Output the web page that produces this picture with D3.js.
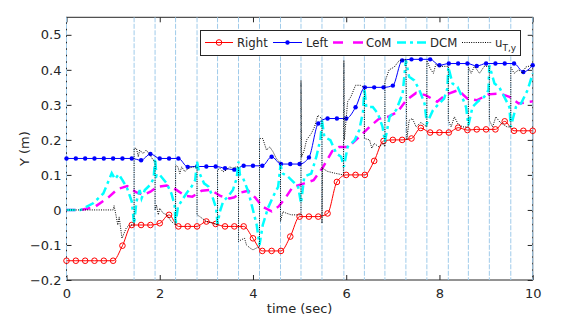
<!DOCTYPE html>
<html>
<head>
<meta charset="utf-8">
<script src="https://cdn.jsdelivr.net/npm/d3@7"></script>
<style>
  body { margin: 0; background: #fff; }
  text { font-family: "DejaVu Sans", sans-serif; fill: #262626; }
</style>
</head>
<body>
<script>
// step events (vertical guide lines)
const eventTimes = [0, 1.45, 1.9, 2.34, 2.8, 3.24, 3.69, 4.14, 4.59, 5.03, 5.48, 5.95,
  6.39, 6.83, 7.28, 7.73, 8.19, 8.62, 9.07, 9.53, 10];

// foot samples (one marker per sample)
const footTimes = [0, 0.2, 0.4, 0.6, 0.8, 1.0, 1.2, 1.4, 1.6, 1.8, 2.0, 2.2, 2.4, 2.6, 2.8,
  3.0, 3.2, 3.4, 3.6, 3.8, 4.0, 4.2, 4.4, 4.6, 4.8, 5.0, 5.2, 5.4, 5.6, 5.8, 6.0, 6.2, 6.4,
  6.6, 6.8, 7.0, 7.2, 7.4, 7.6, 7.8, 8.0, 8.2, 8.4, 8.6, 8.8, 9.0, 9.2, 9.4, 9.6, 9.8, 10.0];
const rightY = [-0.145, -0.145, -0.145, -0.145, -0.145, -0.145, -0.102, -0.043, -0.043, -0.043,
  -0.038, -0.014, -0.047, -0.047, -0.047, -0.033, -0.040, -0.047, -0.047, -0.047, -0.081,
  -0.117, -0.117, -0.117, -0.076, -0.019, -0.019, -0.019, -0.010, 0.080, 0.100, 0.100, 0.100,
  0.140, 0.197, 0.200, 0.200, 0.204, 0.234, 0.221, 0.221, 0.221, 0.235, 0.228, 0.230, 0.230,
  0.230, 0.253, 0.226, 0.226, 0.226];
const leftY = [0.147, 0.147, 0.147, 0.147, 0.147, 0.147, 0.147, 0.147, 0.142, 0.160, 0.147,
  0.147, 0.147, 0.123, 0.124, 0.124, 0.124, 0.119, 0.115, 0.126, 0.126, 0.126, 0.152, 0.131,
  0.131, 0.131, 0.150, 0.247, 0.261, 0.261, 0.261, 0.293, 0.350, 0.350, 0.350, 0.355, 0.427,
  0.430, 0.430, 0.430, 0.413, 0.418, 0.418, 0.418, 0.411, 0.418, 0.418, 0.418, 0.418, 0.394,
  0.413];

// centre of mass
const comData = [[0, 0], [0.3, 0], [0.6, 0.008], [0.9, 0.036], [1.1, 0.060], [1.3, 0.068],
  [1.5, 0.050], [1.65, 0.043], [1.8, 0.052], [1.95, 0.066], [2.15, 0.070], [2.35, 0.058],
  [2.55, 0.040], [2.7, 0.038], [2.9, 0.055], [3.1, 0.057], [3.3, 0.040], [3.5, 0.033],
  [3.6, 0.036], [3.75, 0.050], [3.9, 0.055], [4.05, 0.035], [4.2, 0.010], [4.4, -0.004],
  [4.55, 0.010], [4.7, 0.035], [4.85, 0.065], [5.1, 0.076], [5.3, 0.085], [5.5, 0.122],
  [5.7, 0.168], [5.85, 0.180], [6.05, 0.180], [6.25, 0.205], [6.5, 0.237], [6.7, 0.260],
  [6.9, 0.266], [7.1, 0.280], [7.3, 0.315], [7.5, 0.334], [7.7, 0.328], [7.95, 0.309],
  [8.15, 0.330], [8.4, 0.342], [8.6, 0.318], [8.8, 0.313], [9.05, 0.330], [9.3, 0.332],
  [9.5, 0.323], [9.7, 0.304], [10, 0.310]];

// divergent component of motion
const dcmData = [[0, 0], [0.3, 0], [0.57, 0.019], [0.79, 0.047], [0.97, 0.105], [1.04, 0.088],
  [1.12, 0.102], [1.2, 0.085], [1.3, 0.062], [1.4, 0.024], [1.45, -0.040], [1.5, 0.024],
  [1.57, 0.057], [1.61, 0.033], [1.68, 0.057], [1.79, 0.071], [1.87, 0.090], [1.9, 0.147],
  [1.93, 0.095], [2.0, 0.100], [2.15, 0.076], [2.25, 0.047], [2.32, 0.014], [2.34, -0.040],
  [2.39, 0.009], [2.46, 0.024], [2.57, 0.047], [2.68, 0.066], [2.76, 0.085], [2.8, 0.138],
  [2.84, 0.109], [2.95, 0.076], [3.05, 0.066], [3.13, 0.038], [3.21, 0.005], [3.24, -0.040],
  [3.29, -0.005], [3.36, 0.024], [3.46, 0.038], [3.57, 0.057], [3.65, 0.090], [3.69, 0.138],
  [3.72, 0.100], [3.79, 0.090], [3.9, 0.052], [4.0, 0], [4.08, -0.043], [4.14, -0.100],
  [4.21, -0.043], [4.32, 0.005], [4.43, 0.038], [4.54, 0.066], [4.59, 0.128], [4.64, 0.104],
  [4.75, 0.095], [4.86, 0.081], [4.97, 0.066], [5.03, 0.019], [5.1, 0.095], [5.25, 0.104],
  [5.36, 0.152], [5.45, 0.204], [5.48, 0.256], [5.53, 0.209], [5.66, 0.199], [5.79, 0.161],
  [5.89, 0.152], [5.95, 0.123], [6.03, 0.180], [6.18, 0.199], [6.28, 0.228], [6.36, 0.280],
  [6.39, 0.347], [6.43, 0.294], [6.57, 0.294], [6.68, 0.275], [6.78, 0.237], [6.83, 0.195],
  [6.93, 0.266], [7.07, 0.285], [7.21, 0.332], [7.28, 0.427], [7.35, 0.380], [7.46, 0.370],
  [7.57, 0.342], [7.68, 0.304], [7.73, 0.247], [7.86, 0.285], [7.96, 0.299], [8.1, 0.318],
  [8.17, 0.347], [8.19, 0.408], [8.28, 0.361], [8.39, 0.351], [8.5, 0.318], [8.57, 0.294],
  [8.62, 0.242], [8.71, 0.294], [8.82, 0.309], [8.96, 0.323], [9.05, 0.342], [9.07, 0.413],
  [9.18, 0.361], [9.28, 0.351], [9.39, 0.323], [9.5, 0.294], [9.53, 0.237], [9.64, 0.294],
  [9.75, 0.304], [9.89, 0.342], [10, 0.390]];

// u_T,y
const uData = [[0, 0], [1.0, 0], [1.02, 0.012], [1.06, -0.014], [1.1, -0.043], [1.13, -0.020],
  [1.19, -0.081], [1.28, -0.052], [1.35, -0.043], [1.45, -0.043], [1.45, 0.176], [1.5, 0.176],
  [1.54, 0.152], [1.57, 0.171], [1.64, 0.161], [1.71, 0.171], [1.79, 0.157], [1.86, 0.142],
  [1.9, 0.140], [1.9, 0.0], [1.93, 0.014], [1.97, -0.014], [2.0, 0.005], [2.07, -0.009],
  [2.15, -0.014], [2.25, -0.033], [2.34, -0.043], [2.34, 0.128], [2.39, 0.123], [2.43, 0.104],
  [2.47, 0.123], [2.54, 0.109], [2.61, 0.119], [2.72, 0.123], [2.8, 0.123], [2.8, -0.014],
  [2.86, -0.019], [3.0, -0.033], [3.14, -0.038], [3.24, -0.043], [3.24, 0.114], [3.29, 0.119],
  [3.36, 0.109], [3.43, 0.114], [3.5, 0.123], [3.57, 0.119], [3.64, 0.123], [3.69, 0.123],
  [3.69, -0.090], [3.75, -0.085], [3.82, -0.081], [3.86, -0.100], [3.94, -0.109],
  [4.0, -0.114], [4.07, -0.109], [4.14, -0.105], [4.14, 0.204], [4.21, 0.204], [4.29, 0.171],
  [4.36, 0.180], [4.43, 0.166], [4.5, 0.147], [4.59, 0.133], [4.59, -0.033], [4.64, -0.005],
  [4.71, -0.009], [4.82, -0.014], [5.03, -0.014], [5.03, 0.370], [5.04, 0.150], [5.1, 0.171],
  [5.15, 0.200], [5.25, 0.218], [5.32, 0.237], [5.39, 0.270], [5.43, 0.266], [5.48, 0.260],
  [5.48, -0.038], [5.49, 0.119], [5.6, 0.110], [5.75, 0.105], [5.94, 0.100], [5.95, 0.427],
  [5.96, 0.200], [6.03, 0.309], [6.1, 0.323], [6.2, 0.356], [6.3, 0.356], [6.39, 0.350],
  [6.39, 0.204], [6.5, 0.200], [6.55, 0.176], [6.6, 0.190], [6.7, 0.180], [6.8, 0.190],
  [6.83, 0.180], [6.83, 0.366], [6.92, 0.400], [7.03, 0.408], [7.14, 0.427], [7.28, 0.430],
  [7.3, 0.200], [7.35, 0.256], [7.42, 0.261], [7.5, 0.237], [7.6, 0.250], [7.73, 0.237],
  [7.73, 0.427], [7.8, 0.404], [7.87, 0.390], [7.92, 0.415], [8.0, 0.410], [8.19, 0.410],
  [8.19, 0.256], [8.25, 0.237], [8.32, 0.266], [8.4, 0.245], [8.5, 0.237], [8.62, 0.237],
  [8.62, 0.408], [8.68, 0.390], [8.75, 0.410], [8.86, 0.390], [8.96, 0.410], [9.07, 0.410],
  [9.07, 0.256], [9.14, 0.237], [9.21, 0.266], [9.3, 0.250], [9.45, 0.237], [9.53, 0.237],
  [9.53, 0.408], [9.6, 0.390], [9.7, 0.400], [9.78, 0.390], [9.85, 0.408], [10, 0.413]];

const xTicks = [0, 2, 4, 6, 8, 10];
const yTicks = [-0.2, -0.1, 0, 0.1, 0.2, 0.3, 0.4, 0.5];

const W = 574, H = 318;
const pLeft = 66.5, pRight = 532.7, pTop = 17.3, pBottom = 280;

const svg = d3.select('body').append('svg')
  .attr('width', W).attr('height', H);

const x = d3.scaleLinear().domain([0, 10]).range([pLeft, pRight]);
const y = d3.scaleLinear().domain([-0.2, 0.55]).range([pBottom, pTop]);

// axes box (drawn first, MATLAB layer bottom)
const axisColor = '#262626';
svg.append('rect')
  .attr('x', pLeft).attr('y', pTop)
  .attr('width', pRight - pLeft).attr('height', pBottom - pTop)
  .attr('fill', 'none').attr('stroke', axisColor).attr('stroke-width', 1);

const fmt = d => d === 0 ? '0' : d3.format('.1f')(d);
const tickLen = 5;

const gx = svg.append('g').attr('transform', `translate(0,${pBottom})`)
  .call(d3.axisBottom(x).tickValues(xTicks).tickSizeInner(-tickLen).tickSizeOuter(0).tickPadding(9));
const gxTop = svg.append('g').attr('transform', `translate(0,${pTop})`)
  .call(d3.axisTop(x).tickValues(xTicks).tickSizeInner(-tickLen).tickSizeOuter(0).tickFormat(''));
const gy = svg.append('g').attr('transform', `translate(${pLeft},0)`)
  .call(d3.axisLeft(y).tickValues(yTicks).tickSizeInner(-tickLen).tickSizeOuter(0).tickPadding(5).tickFormat(fmt));
const gyRight = svg.append('g').attr('transform', `translate(${pRight},0)`)
  .call(d3.axisRight(y).tickValues(yTicks).tickSizeInner(-tickLen).tickSizeOuter(0).tickFormat(''));

[gx, gxTop, gy, gyRight].forEach(g => {
  g.select('.domain').remove();
  g.selectAll('line').attr('stroke', axisColor);
  g.selectAll('text').attr('font-size', 13).attr('font-family', 'DejaVu Sans').attr('fill', axisColor);
});

svg.append('text')
  .attr('x', (pLeft + pRight) / 2).attr('y', 313)
  .attr('text-anchor', 'middle').attr('font-size', 13)
  .text('time (sec)');
svg.append('text')
  .attr('transform', `translate(29,${(pTop + pBottom) / 2}) rotate(-90)`)
  .attr('text-anchor', 'middle').attr('font-size', 13)
  .text('Y (m)');

// vertical event lines
svg.append('g').selectAll('line').data(eventTimes).join('line')
  .attr('x1', d => x(d)).attr('x2', d => x(d))
  .attr('y1', pTop).attr('y2', pBottom)
  .attr('stroke', '#9fcbea').attr('stroke-width', 1)
  .attr('stroke-dasharray', '5,1.5');

const plot = svg.append('g');
const lineXY = d3.line().x(d => x(d[0])).y(d => y(d[1]));
const rightData = footTimes.map((t, i) => [t, rightY[i]]);
const leftData = footTimes.map((t, i) => [t, leftY[i]]);
const smooth = d3.line().x(d => x(d[0])).y(d => y(d[1])).curve(d3.curveMonotoneX);

// Right
plot.append('path').datum(rightData)
  .attr('d', smooth).attr('fill', 'none').attr('stroke', '#ff0000').attr('stroke-width', 1);
plot.append('g').selectAll('circle').data(rightData).join('circle')
  .attr('cx', d => x(d[0])).attr('cy', d => y(d[1])).attr('r', 2.8)
  .attr('fill', 'none').attr('stroke', '#ff0000').attr('stroke-width', 1);

// Left
plot.append('path').datum(leftData)
  .attr('d', smooth).attr('fill', 'none').attr('stroke', '#0000ff').attr('stroke-width', 1);
plot.append('g').selectAll('circle').data(leftData).join('circle')
  .attr('cx', d => x(d[0])).attr('cy', d => y(d[1])).attr('r', 2.2)
  .attr('fill', '#0000ff');

// CoM
plot.append('path').datum(comData)
  .attr('d', lineXY).attr('fill', 'none').attr('stroke', '#ff00ff')
  .attr('stroke-width', 2.5).attr('stroke-dasharray', '9,6');

// DCM
plot.append('path').datum(dcmData)
  .attr('d', lineXY).attr('fill', 'none').attr('stroke', '#00ffff')
  .attr('stroke-width', 2.5).attr('stroke-dasharray', '9,4,3,4');

// u_T,y
plot.append('path').datum(uData)
  .attr('d', lineXY).attr('fill', 'none').attr('stroke', '#000')
  .attr('stroke-width', 1).attr('stroke-dasharray', '1,1.3');

// legend
const lg = svg.append('g');
lg.append('rect').attr('x', 200.5).attr('y', 30.5).attr('width', 320).attr('height', 25)
  .attr('fill', '#fff').attr('stroke', axisColor).attr('stroke-width', 1);
const ly = 42.5;
const items = [
  { x0: 205, x1: 233, tx: 237, label: 'Right', color: '#ff0000', w: 1, dash: null, marker: 'o' },
  { x0: 273, x1: 302, tx: 306, label: 'Left', color: '#0000ff', w: 1, dash: null, marker: '.' },
  { x0: 333, x1: 363, tx: 366, label: 'CoM', color: '#ff00ff', w: 2.5, dash: '10,10' },
  { x0: 397, x1: 427, tx: 430, label: 'DCM', color: '#00ffff', w: 2.5, dash: '9,4,3,4' },
  { x0: 462, x1: 492, tx: 495, label: 'u', color: '#000', w: 1, dash: '1,1.3' }
];
items.forEach(it => {
  const l = lg.append('line').attr('x1', it.x0).attr('x2', it.x1).attr('y1', ly).attr('y2', ly)
    .attr('stroke', it.color).attr('stroke-width', it.w);
  if (it.dash) l.attr('stroke-dasharray', it.dash);
  const mx = (it.x0 + it.x1) / 2;
  if (it.marker === 'o') lg.append('circle').attr('cx', mx).attr('cy', ly).attr('r', 2.8)
    .attr('fill', 'none').attr('stroke', it.color);
  if (it.marker === '.') lg.append('circle').attr('cx', mx).attr('cy', ly).attr('r', 2.2)
    .attr('fill', it.color);
  const t = lg.append('text').attr('x', it.tx).attr('y', ly + 4.2).attr('font-size', 11.7)
    .text(it.label);
  if (it.label === 'u') {
    t.append('tspan').attr('font-size', 9).attr('dy', 4).text('T,y');
  }
});
</script>
</body>
</html>
